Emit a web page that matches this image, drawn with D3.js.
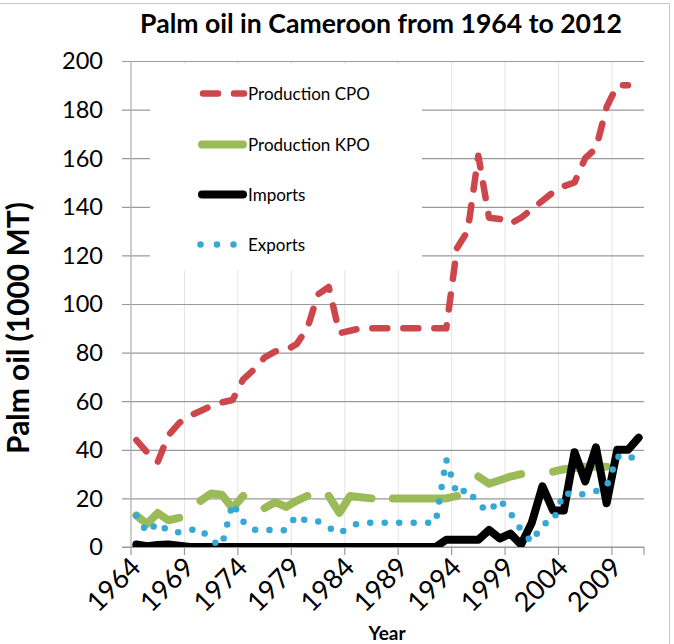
<!DOCTYPE html>
<html><head><meta charset="utf-8">
<script src="https://cdn.jsdelivr.net/npm/d3@7"></script>
<style>html,body{margin:0;padding:0;background:#fff}</style>
</head><body>
<svg id="chart" width="674" height="644"></svg>
<script>
// ---------- DATA ----------
const years = [1964,1965,1966,1967,1968,1969,1970,1971,1972,1973,1974,1975,1976,1977,1978,1979,
  1980,1981,1982,1983,1984,1985,1986,1987,1988,1989,1990,1991,1992,1993,1994,1995,1996,1997,
  1998,1999,2000,2001,2002,2003,2004,2005,2006,2007,2008,2009,2010,2011];
const xTickLabels = [1964,1969,1974,1979,1984,1989,1994,1999,2004,2009];
const yTicks = [0,20,40,60,80,100,120,140,160,180,200];
const seriesNames = ["Production CPO","Production KPO","Imports","Exports"];

const productionCPO = [44,39,35,46,51,54,56,58,59.5,60.5,69,73,78,80.5,81,83.5,
  90,104,107,88,89,90,90,90,90,90,90,90,90,90,123,130,161,135.5,
  135,133,135.5,139,142.5,146,148.5,150,160,164,181,190,190,null];
const productionKPO = [13,9.5,14,11,12,null,19,22,21.5,16,21,null,16,18.5,16.5,19,
  21,null,21,14,21,20.5,20,null,20,20,20,20,20,20,21,null,29,26,
  27.5,29,30,null,null,31,32,32.5,33,33,33,null,null,null];
const imports = [1,0.3,0.8,1,0.5,0,0,0,0,0,0,0,0,0,0,0,
  0,0,0,0,0,0,0,0,0,0,0,0,0,3,3,3,3,7,
  3.5,5.5,1,10,25,15,15,39,27,41,18,40,40,45];
const exports = [13,6,10,6.5,6,7,7.5,2.5,0.5,18,10.5,7,7.5,6.5,7,13,
  10.5,10.5,8,5.5,8.5,10,10,10,10,10,10,10,10,36,21.5,24,17.5,14.5,
  19.5,14,7,2,9.5,10.5,22.5,21,22,23,25,37,38,34.5];

// ---------- LAYOUT ----------
const W = 674, H = 644;
const plot = {left:131, right:644, top:61, bottom:547};
const svg = d3.select("#chart");
const FONT = "Lato, 'Open Sans', sans-serif";

const x = d3.scalePoint().domain(years).range([plot.left, plot.right]).padding(0.5);
const step = x.step();
const y = d3.scaleLinear().domain([0,200]).range([plot.bottom, plot.top]);

function fitWidth(sel, target){
  const w = sel.node().getComputedTextLength();
  const fs = parseFloat(sel.attr("font-size"));
  const nfs = fs*target/w;
  sel.attr("font-size", nfs);
  return nfs;
}

svg.append("rect").attr("width",W).attr("height",H).attr("fill","#fff");
svg.append("path").attr("d",`M0,3.5H669.5V${H}`).attr("fill","none").attr("stroke","#c6c6c6");

// vertical light gridlines at 5-category boundaries
const bounds = xTickLabels.map(d => x(d) - step/2);
svg.append("g").selectAll("line").data(bounds).join("line")
  .attr("x1",d=>d).attr("x2",d=>d).attr("y1",plot.top).attr("y2",plot.bottom)
  .attr("stroke","#e4e4e4").attr("stroke-width",1);

// horizontal gridlines + y axis
const yAxis = d3.axisLeft(y).tickValues(yTicks).tickSize(-(plot.right-plot.left)).tickPadding(0);
const gy = svg.append("g").attr("transform",`translate(${plot.left},0)`).call(yAxis);
gy.select(".domain").remove();
gy.selectAll(".tick line").attr("x1",-9).attr("stroke","#9a9a9a").attr("stroke-width",1.2);
gy.selectAll(".tick text").remove();

// y tick labels
const yLab = svg.append("g").selectAll("text").data(yTicks).join("text")
  .attr("x",103).attr("y",d=>y(d)).attr("dy","0.36em")
  .attr("text-anchor","end").attr("font-family",FONT).attr("font-size",22)
  .attr("fill","#000").text(d=>d);
const yfs = fitWidth(d3.select(yLab.nodes()[10]), 41);
yLab.attr("font-size", yfs);

// axis lines
svg.append("line").attr("x1",plot.left).attr("x2",plot.left).attr("y1",plot.top).attr("y2",plot.bottom)
  .attr("stroke","#b5b5b5").attr("stroke-width",1.2);
svg.append("line").attr("x1",plot.left-9).attr("x2",plot.right).attr("y1",plot.bottom).attr("y2",plot.bottom)
  .attr("stroke","#9a9a9a").attr("stroke-width",1.2);
// x tick marks
svg.append("g").selectAll("line").data(bounds.concat([plot.right])).join("line")
  .attr("x1",d=>d).attr("x2",d=>d).attr("y1",plot.bottom).attr("y2",plot.bottom+8)
  .attr("stroke","#9a9a9a").attr("stroke-width",1.2);

// x tick labels rotated
const xfs = yfs*1.15;
svg.append("g").selectAll("text").data(xTickLabels).join("text")
  .attr("transform",d=>`translate(${x(d)+6},${plot.bottom+22}) rotate(-45)`)
  .attr("text-anchor","end")
  .attr("font-family",FONT).attr("font-size",xfs).attr("fill","#000").text(d=>d);

// ---------- SERIES ----------
svg.append("clipPath").attr("id","clip").append("rect")
  .attr("x",plot.left).attr("y",plot.top).attr("width",plot.right-plot.left).attr("height",plot.bottom-plot.top);

const lineGen = d3.line().defined(d=>d!=null).x((d,i)=>x(years[i])).y(d=>y(d));
const gS = svg.append("g").attr("clip-path","url(#clip)");

const styles = [
  {data:productionCPO, color:"#cc464c", width:6.5, dash:"15,16"},
  {data:productionKPO, color:"#9bbb59", width:8, dash:null},
  {data:imports,       color:"#000000", width:8, dash:null},
  {data:exports,       color:"#36a8d6", width:6.5, dash:"0,14.5"}
];

// legend box (drawn over gridlines, below series)
svg.append("rect").attr("x",150).attr("y",64).attr("width",272).attr("height",206).attr("fill","#fff");

styles.forEach(s=>{
  gS.append("path").datum(s.data).attr("d",lineGen)
    .attr("fill","none").attr("stroke",s.color).attr("stroke-width",s.width)
    .attr("stroke-linecap","round").attr("stroke-linejoin","round")
    .attr("stroke-dasharray",s.dash);
});

// ---------- LEGEND ----------
const legY = [93.5,144.5,194.5,244.5];
const lg = svg.append("g");
styles.forEach((s,i)=>{
  let x1 = 203, x2 = 244;
  if(i===1||i===2){ x1 = 202; x2 = 243; }
  if(i===3){ x1 = 200.5; x2 = 240; }
  lg.append("line").attr("x1",x1).attr("x2",x2).attr("y1",legY[i]).attr("y2",legY[i])
    .attr("stroke",s.color).attr("stroke-width",s.width)
    .attr("stroke-linecap","round").attr("stroke-dasharray",i===3?"0,16.5":s.dash);
});
const legText = lg.selectAll("text").data(seriesNames).join("text")
  .attr("x",248).attr("y",(d,i)=>legY[i]).attr("dy","0.36em")
  .attr("font-family",FONT).attr("font-size",16).attr("fill","#000").text(d=>d);
const lfs = fitWidth(d3.select(legText.nodes()[0]), 122);
legText.attr("font-size", lfs);

// ---------- TITLES ----------
const title = svg.append("text").attr("x",381).attr("y",33).attr("text-anchor","middle")
  .attr("font-family",FONT).attr("font-weight","bold").attr("font-size",22)
  .text("Palm oil in Cameroon from 1964 to 2012");
fitWidth(title, 482);

const yTitle = svg.append("text").attr("transform","translate(29,328) rotate(-90)")
  .attr("text-anchor","middle").attr("font-family",FONT).attr("font-weight","bold")
  .attr("font-size",20).text("Palm oil (1000 MT)");
fitWidth(yTitle, 252);

svg.append("text").attr("x",387).attr("y",640).attr("text-anchor","middle")
  .attr("font-family",FONT).attr("font-weight","bold").attr("font-size",19).text("Year");
</script>
</body></html>
